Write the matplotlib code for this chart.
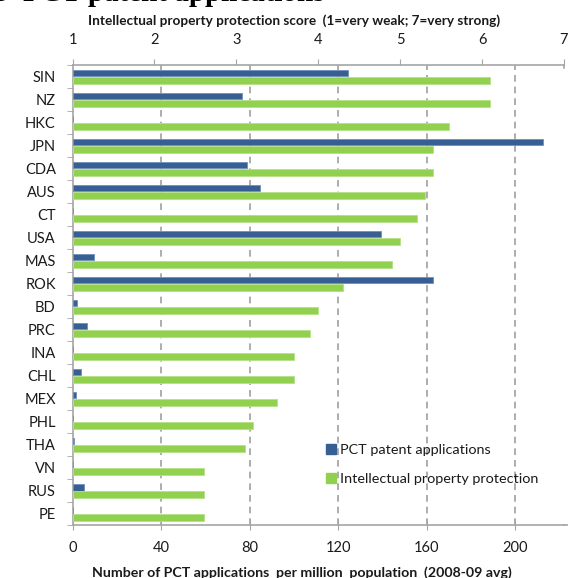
import numpy as np
import matplotlib
matplotlib.use("Agg")
import matplotlib.pyplot as plt
from matplotlib.patches import Patch

plt.rcParams['font.family'] = ['Lato', 'DejaVu Sans']

countries = ["SIN", "NZ", "HKC", "JPN", "CDA", "AUS", "CT", "USA", "MAS", "ROK",
             "BD", "PRC", "INA", "CHL", "MEX", "PHL", "THA", "VN", "RUS", "PE"]
# PCT applications per million population (2008-09 avg)
pct_apps = [124.5, 76.5, 0, 212.7, 78.7, 84.6, 0, 139.4, 9.7, 162.8,
            2.2, 6.4, 0, 3.7, 1.6, 0, 0.7, 0, 5.2, 0]
# intellectual property protection score, 1..7
ip_score = [6.1, 6.1, 5.6, 5.4, 5.4, 5.3, 5.2, 5.0, 4.9, 4.3,
            4.0, 3.9, 3.7, 3.7, 3.5, 3.2, 3.1, 2.6, 2.6, 2.6]
pct_ticks = [0, 40, 80, 120, 160, 200]
score_ticks = [1, 2, 3, 4, 5, 6, 7]

BLUE = "#375F93"
GREEN = "#92D050"
AXIS = "#A6A6A6"
TXT = "#1A1A1A"

fig = plt.figure(figsize=(5.68, 5.78), dpi=100)
ax = fig.add_axes([72.5 / 568, 1 - 525 / 578, (564 - 72.5) / 568, (525 - 65) / 578])
ax2 = ax.twiny()

y = np.arange(len(countries))
h = 0.3
ax.barh(y - 0.15, pct_apps, height=h, color=BLUE, edgecolor="#6F8FBA", linewidth=0.6, zorder=3)
ax2.barh(y + 0.16, np.array(ip_score) - 1, left=1, height=h, color=GREEN,
         edgecolor="#B5E08A", linewidth=0.6, zorder=3)

ax.set_xlim(0, 222)
ax2.set_xlim(1, 7)
ax.set_ylim(len(countries) - 0.5, -0.5)

# dashed grid from the bottom (PCT) scale
for t in pct_ticks[1:]:
    ax.axvline(t, color="#A0A0A0", linestyle=(0, (4, 3)), linewidth=1.2, zorder=1)

ax.set_xticks(pct_ticks)
ax.set_xticklabels([str(t) for t in pct_ticks], fontsize=10.5, color=TXT)
ax.tick_params(axis="x", direction="inout", length=7, color=AXIS, pad=8)

ax.set_yticks(y)
ax.set_yticklabels(countries, fontsize=10.5, color=TXT)
ax.tick_params(axis="y", length=0, pad=12)
ax.set_yticks(np.arange(len(countries) + 1) - 0.5, minor=True)
ax.tick_params(axis="y", which="minor", direction="out", length=4, color=AXIS)

ax2.set_xticks(score_ticks)
ax2.set_xticklabels([str(t) for t in score_ticks], fontsize=10.5, color=TXT)
ax2.tick_params(axis="x", direction="out", length=4, color=AXIS, pad=9)

for s in ["top", "right"]:
    ax.spines[s].set_visible(False)
for s in ["left", "bottom"]:
    ax.spines[s].set_color(AXIS)
    ax.spines[s].set_linewidth(1.2)
for s in ["bottom", "left", "right"]:
    ax2.spines[s].set_visible(False)
ax2.spines["top"].set_color(AXIS)
ax2.spines["top"].set_linewidth(1.2)
ax2.plot([7, 7], [-0.5, -0.35], color=AXIS, linewidth=1.2, clip_on=False)
# bottom axis line runs on to the right edge
fig.add_artist(plt.Line2D([564 / 568, 1.0], [1 - 525 / 578] * 2, color=AXIS, linewidth=1.2))

fig.text(302 / 568, 1 - 573 / 578, "Number of PCT applications  per million  population  (2008-09 avg)",
         ha="center", va="center", fontsize=10.2, fontweight="bold", color=TXT)
fig.text(294 / 568, 1 - 21 / 578, "Intellectual property protection score  (1=very weak; 7=very strong)",
         ha="center", va="center", fontsize=9.8, fontweight="bold", color=TXT)
fig.text(-0.01, 1 - 1 / 578, "3  PCT patent applications", ha="left", va="baseline",
         fontsize=21, fontweight="bold", family="Liberation Serif", color="black")

handles = [Patch(facecolor=BLUE, edgecolor=BLUE), Patch(facecolor=GREEN, edgecolor=GREEN)]
fig.legend(handles, ["PCT patent applications", "Intellectual property protection"],
           loc="upper left", bbox_to_anchor=(313 / 568, 1 - 431 / 578), frameon=False,
           fontsize=10.4, handlelength=0.7, handleheight=0.7, handletextpad=0.3,
           labelspacing=1.15, labelcolor=TXT)

fig.savefig("out.png", dpi=100)
